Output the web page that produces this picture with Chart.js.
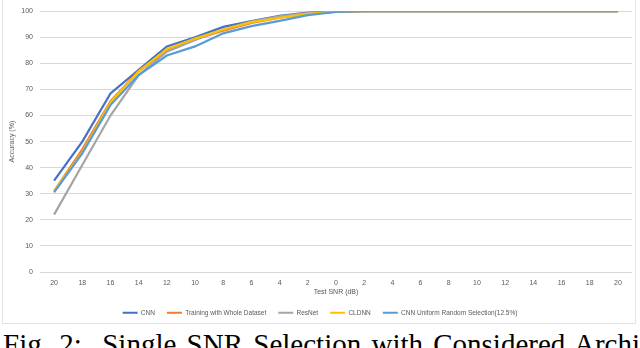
<!DOCTYPE html>
<html>
<head>
<meta charset="utf-8">
<script src="https://cdn.jsdelivr.net/npm/chart.js@4/dist/chart.umd.min.js"></script>
<style>
  html, body { margin: 0; padding: 0; background: #fff; overflow: hidden; }
  body { width: 640px; height: 348px; position: relative; }
  #frame { position: absolute; left: 2px; top: -1px; width: 632px; height: 323px; border: 1px solid #E3E3E3; }
  #wrap { position: absolute; left: 0; top: 0; width: 640px; height: 326px; }
  #cap { position: absolute; left: 3px; top: 330px; font-family: "Liberation Serif", "Times New Roman", serif; font-size: 29px; line-height: 29px; white-space: nowrap; color: #000; word-spacing: 3px; }
</style>
</head>
<body>
<div id="frame"></div>
<div id="cap">Fig. 2:&nbsp; Single SNR Selection with Considered Architectures</div>
<div id="wrap"><canvas id="c" width="640" height="326"></canvas></div>
<script>
const categories = ['20','18','16','14','12','10','8','6','4','2','0','2','4','6','8','10','12','14','16','18','20'];
const seriesNames = ['CNN', 'Training with Whole Dataset', 'ResNet', 'CLDNN', 'CNN Uniform Random Selection(12.5%)'];
const cnn        = [35, 50, 68.5, 77.5, 86.5, 90, 94, 96.2, 98.2, 99.5, 100, 100, 100, 100, 100, 100, 100, 100, 100, 100, 100];
const wholeData  = [31, 47, 65.5, 77, 85, 89.3, 92.5, 95.5, 97.5, 99, 99.8, 100, 100, 100, 100, 100, 100, 100, 100, 100, 100];
const resnet     = [22, 41, 60, 75.5, 84.5, 89, 93, 96, 98, 99.3, 99.8, 100, 100, 100, 100, 100, 100, 100, 100, 100, 100];
const cldnn      = [31, 46, 65, 77, 85.5, 89.5, 93, 95.8, 97.5, 99, 99.8, 100, 100, 100, 100, 100, 100, 100, 100, 100, 100];
const cnnUniform = [30.5, 45.5, 64, 75.5, 83, 86.5, 91.5, 94.3, 96.3, 98.5, 99.7, 100, 100, 100, 100, 100, 100, 100, 100, 100, 100];
const yTicks = [0, 10, 20, 30, 40, 50, 60, 70, 80, 90, 100];

const colors = ['#4472C4', '#ED7D31', '#A5A5A5', '#FFC000', '#5B9BD5'];
const values = [cnn, wholeData, resnet, cldnn, cnnUniform];
const FONT = '"Liberation Sans", Arial, sans-serif';

new Chart(document.getElementById('c'), {
  type: 'line',
  data: {
    labels: categories,
    datasets: values.map((v, i) => ({
      label: seriesNames[i],
      data: v,
      borderColor: colors[i],
      backgroundColor: colors[i],
      borderWidth: 2.2,
      pointRadius: 0,
      tension: 0,
      fill: false,
      order: 4 - i
    }))
  },
  options: {
    responsive: false,
    animation: false,
    layout: { padding: { top: 9, right: 8, left: 8, bottom: 0 } },
    plugins: {
      tooltip: { enabled: false },
      legend: {
        position: 'bottom',
        labels: {
          usePointStyle: true,
          pointStyle: 'line',
          pointStyleWidth: 15,
          boxHeight: 7,
          padding: 12,
          color: '#595959',
          font: { family: FONT, size: 6.5 },
          generateLabels: (chart) => chart.data.datasets.map((d, i) => ({
            text: d.label, strokeStyle: d.borderColor, fillStyle: d.borderColor,
            lineWidth: 2, pointStyle: 'line', datasetIndex: i, hidden: false, fontColor: '#595959'
          }))
        }
      }
    },
    scales: {
      x: {
        offset: true,
        grid: { display: false, drawTicks: false },
        border: { display: false },
        ticks: { color: '#595959', font: { family: FONT, size: 7 }, padding: 7, maxRotation: 0, autoSkip: false },
        title: { display: true, text: 'Test SNR (dB)', color: '#595959', font: { family: FONT, size: 7 }, padding: { top: 0, bottom: 1.3 } },
        afterFit: (s) => { s.height = 25.5; }
      },
      y: {
        min: 0, max: 100,
        afterBuildTicks: (s) => { s.ticks = yTicks.map(v => ({ value: v })); },
        grid: { color: '#D9D9D9', lineWidth: 1, drawTicks: false },
        border: { display: false },
        ticks: { color: '#595959', font: { family: FONT, size: 7 }, padding: 7 },
        title: { display: true, text: 'Accuracy (%)', color: '#595959', font: { family: FONT, size: 7 }, padding: 0 },
        afterFit: (s) => { s.width = 32; }
      }
    }
  }
});
</script>
</body>
</html>
